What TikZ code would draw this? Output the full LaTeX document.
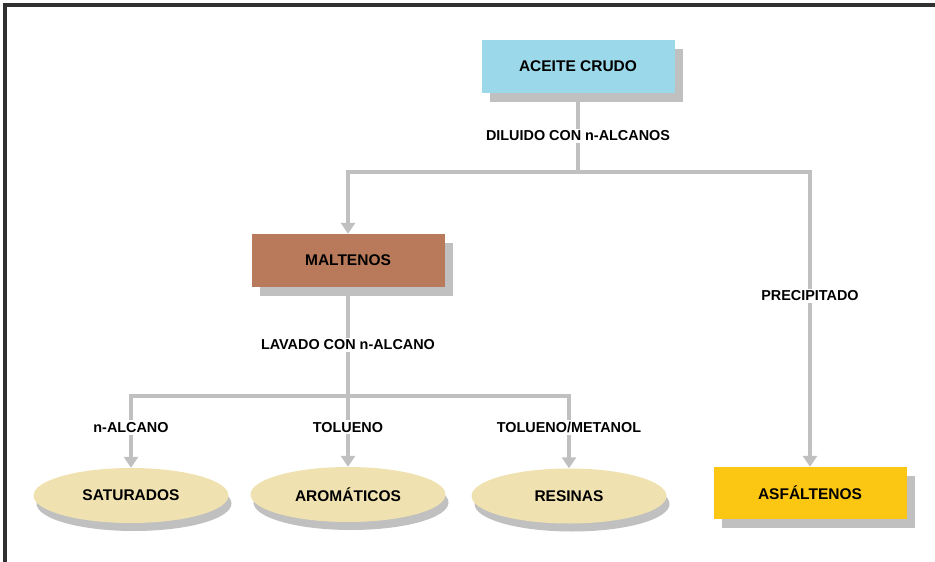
\documentclass[tikz,border=0pt]{standalone}
\usepackage{fontspec}
\setmainfont{Liberation Sans}
\usepackage{tikz}
\usetikzlibrary{arrows.meta, positioning, shapes.geometric, shadows}
\definecolor{crudo}{HTML}{9BD9EA}
\definecolor{malteno}{HTML}{B87A5A}
\definecolor{fraccion}{HTML}{F0E2B0}
\definecolor{asfalteno}{HTML}{FCC712}
\definecolor{linegray}{HTML}{C0C0C0}
\definecolor{framegray}{HTML}{303030}

\begin{document}
\begin{tikzpicture}[
  x=1pt, y=-1pt,
  box/.style={rectangle, minimum width=193pt, minimum height=53pt,
              font=\fontsize{15.5}{18}\selectfont\bfseries, text=black,
              drop shadow={shadow xshift=8pt, shadow yshift=-9pt, fill=linegray, opacity=1}},
  oval/.style={ellipse, fill=fraccion, minimum width=195pt, minimum height=55pt,
               font=\fontsize{15.5}{18}\selectfont\bfseries, text=black,
               drop shadow={shadow xshift=3pt, shadow yshift=-8pt, fill=linegray, opacity=1}},
  conn/.style={line width=4pt, color=linegray},
  arr/.style={-{Triangle[length=11pt, width=14pt]}},
  lbl/.style={fill=white, inner sep=2pt, font=\fontsize{14.4}{17}\selectfont\bfseries, text=black}
]
  \useasboundingbox (0,0) rectangle (935,562);
  % marco
  \draw[line width=4pt, color=framegray] (5.3,562) -- (5.3,5.3) -- (935,5.3);

  % nodos
  \node[box, fill=crudo] (aceite) at (578,66.5) {ACEITE CRUDO};
  \node[box, fill=malteno] (maltenos) at (348,260.5) {MALTENOS};
  \node[box, fill=asfalteno, minimum height=52pt] (asfaltenos) at (810,493) {ASFÁLTENOS};
  \node[oval] (saturados) at (131,495.5) {SATURADOS};
  \node[oval] (aromaticos) at (348,494.5) {AROMÁTICOS};
  \node[oval] (resinas) at (569,496) {RESINAS};

  \coordinate (split1) at (578,172);
  \coordinate (split2) at (348,396);

  % conectores
  \draw[conn] (aceite) -- node[lbl, pos=0.54] {DILUIDO CON n-ALCANOS} (split1);
  \draw[conn, arr] (split1) -| (maltenos);
  \draw[conn, arr] (split1) -| node[lbl, pos=0.71] {PRECIPITADO} (asfaltenos);
  \draw[conn] (maltenos) -- node[lbl, pos=0.53] {LAVADO CON n-ALCANO} (split2);
  \draw[conn, arr] (split2) -| node[lbl, pos=0.72] {n-ALCANO} (saturados);
  \draw[conn, arr] (split2) -- node[lbl, pos=0.44] {TOLUENO} (aromaticos);
  \draw[conn, arr] (split2) -| node[lbl, pos=0.72] {TOLUENO/METANOL} (resinas);
\end{tikzpicture}
\end{document}
